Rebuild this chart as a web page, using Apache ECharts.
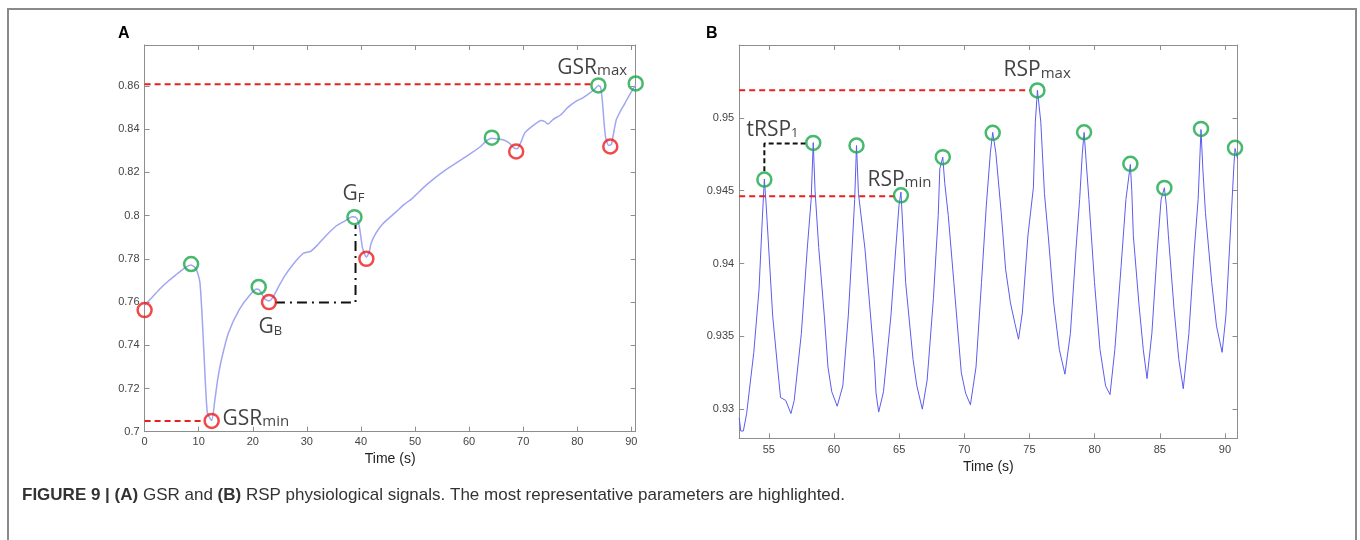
<!DOCTYPE html>
<html>
<head>
<meta charset="utf-8">
<script src="https://cdn.jsdelivr.net/npm/echarts@6/dist/echarts.min.js"></script>
<style>
  html, body { margin: 0; padding: 0; background: #fff; }
  #chart { width: 1360px; height: 540px; }
</style>
</head>
<body>
<div id="chart"></div>
<script>
// ---- panel A : GSR (time s, value) ----
var gsrSignal = [
  [0,0.7585],[1.5,0.7625],[3,0.7665],[4.5,0.7700],[6,0.7730],[7.5,0.7760],[8.6,0.7772],
  [9.5,0.7755],[10.2,0.7696],[10.6,0.755],[11,0.735],[11.6,0.7087],[12.4,0.7052],
  [13.0,0.7148],[13.5,0.724],[14.2,0.7333],[15.5,0.7457],[17.5,0.7565],[19.5,0.7634],
  [20.8,0.7660],[21.4,0.7650],[22.2,0.7615],[23.0,0.7605],[23.8,0.7625],[24.8,0.7673],
  [26,0.7725],[27.4,0.7773],[28.5,0.7805],[29.4,0.7827],[30.7,0.7835],[32,0.7865],
  [33.4,0.7904],[35.3,0.7950],[37,0.7975],[38.4,0.7995],[39.2,0.7990],[39.7,0.7950],
  [40.3,0.7850],[41.0,0.7808],[41.5,0.7830],[41.9,0.7873],[42.8,0.7920],[43.9,0.7958],
  [45,0.7985],[46.6,0.8020],[48,0.8052],[49.5,0.8080],[52,0.8140],[55.2,0.8204],
  [58,0.8250],[60.4,0.8290],[62,0.8318],[63.1,0.8344],[64.2,0.8358],[65.2,0.8355],
  [66.4,0.8350],[67.5,0.8335],[68.2,0.8315],[68.9,0.8310],[69.5,0.8335],[70.3,0.8383],
  [72,0.8420],[73.3,0.8440],[74,0.8435],[74.6,0.8424],[75.5,0.8445],[76.9,0.8466],
  [78.2,0.8500],[79.6,0.8527],[81,0.8545],[82.2,0.8566],[83.2,0.8585],[83.9,0.8603],
  [84.3,0.8595],[84.6,0.8540],[85.2,0.8367],[85.8,0.8325],[86.3,0.8330],[86.7,0.8380],
  [87.2,0.8443],[88,0.8485],[88.8,0.8520],[89.8,0.8565],[90.8,0.8605]
];
var gsrMinima = [[0,0.7563],[12.4,0.705],[23.0,0.760],[41.0,0.780],[68.7,0.8297],[86.1,0.832]];
var gsrMaxima = [[8.6,0.7776],[21.1,0.767],[38.8,0.7993],[64.2,0.8361],[83.9,0.8603],[90.8,0.8612]];
var gsrMaxGuide = [[0,0.8608],[82.6,0.8608]];
var gsrMinGuide = [[0,0.705],[10.9,0.705]];
var gsrRiseGuide = [[24.1,0.7598],[39.0,0.7598],[39.0,0.7957]];
var gsrNotes = [
  {at:[76.4,0.8632], main:'GSR', sub:'max', subSize:15},
  {at:[14.5,0.7008], main:'GSR', sub:'min', subSize:15},
  {at:[21.15,0.7434], main:'G', sub:'B', subSize:13},
  {at:[36.7,0.8050], main:'G', sub:'F', subSize:13}
];

// ---- panel B : RSP ----
var rspSignal = [
  [52.73,0.9294],[52.85,0.9285],[53.05,0.9285],[53.3,0.9297],[53.85,0.9339],[54.25,0.9382],
  [54.5,0.9430],[54.66,0.9458],[54.8,0.9440],[55.3,0.9364],[55.67,0.9329],[55.9,0.9308],
  [56.3,0.9306],[56.7,0.9297],[56.95,0.9306],[57.5,0.9352],[57.95,0.9410],[58.25,0.9444],
  [58.41,0.9483],[58.55,0.9450],[58.83,0.9411],[59.26,0.9364],[59.54,0.9329],[59.83,0.9312],
  [60.25,0.9302],[60.68,0.9316],[61.1,0.9364],[61.39,0.9410],[61.59,0.9444],[61.73,0.9481],
  [61.88,0.9448],[62.38,0.9410],[62.81,0.9364],[63.09,0.9334],[63.23,0.9311],[63.43,0.9298],
  [63.8,0.9312],[64.37,0.9364],[64.74,0.9410],[64.99,0.9440],[65.14,0.9449],[65.5,0.9387],
  [66.07,0.9334],[66.36,0.9316],[66.78,0.9300],[67.15,0.9320],[67.63,0.9376],[68.0,0.9433],
  [68.12,0.9465],[68.35,0.9473],[68.5,0.9455],[68.77,0.9433],[69.2,0.9387],[69.77,0.9325],
  [70.1,0.9311],[70.47,0.9303],[70.9,0.9329],[71.32,0.9387],[71.69,0.9440],[72.0,0.9476],
  [72.18,0.9490],[72.42,0.9476],[72.83,0.9435],[73.17,0.9396],[73.54,0.9373],[73.88,0.9359],
  [74.16,0.9348],[74.45,0.9366],[74.88,0.9419],[75.3,0.9452],[75.45,0.9497],[75.61,0.9519],
  [75.87,0.9497],[76.15,0.9448],[76.44,0.9419],[76.86,0.9373],[77.29,0.9341],[77.72,0.9324],
  [78.14,0.9352],[78.57,0.9410],[78.85,0.9444],[79.05,0.9475],[79.19,0.9490],[79.35,0.9470],
  [79.56,0.9444],[79.99,0.9387],[80.41,0.9341],[80.84,0.9316],[81.18,0.9310],[81.55,0.9341],
  [82.03,0.9398],[82.4,0.9444],[82.74,0.9468],[82.85,0.9450],[82.97,0.9419],[83.39,0.9373],
  [83.73,0.9341],[84.02,0.9321],[84.39,0.9352],[84.81,0.9410],[85.1,0.9444],[85.35,0.9452],
  [85.5,0.9440],[85.66,0.9419],[86.09,0.9369],[86.46,0.9334],[86.8,0.9314],[87.23,0.9352],
  [87.65,0.9410],[87.94,0.9444],[88.16,0.9492],[88.3,0.9465],[88.5,0.9435],[88.98,0.9387],
  [89.35,0.9357],[89.78,0.9339],[90.07,0.9364],[90.4,0.9419],[90.69,0.9468],[90.77,0.9479],
  [90.96,0.9472]
];
var rspPeaks = [
  [54.66,0.94576],[58.41,0.94828],[61.73,0.9481],[65.14,0.94468],[68.35,0.9473],[72.18,0.94897],
  [75.61,0.95188],[79.19,0.94901],[82.74,0.94684],[85.35,0.94519],[88.16,0.94924],[90.77,0.94794]
];
var rspMaxGuide = [[52.73,0.9519],[75.05,0.9519]];
var rspMinGuide = [[52.73,0.94461],[64.66,0.94461]];
var rspPeriodGuide = [[54.66,0.94633],[54.66,0.94823],[57.86,0.94823]];
var rspNotes = [
  {at:[53.33,0.94844], main:'tRSP', sub:'1', subSize:13},
  {at:[62.61,0.9450], main:'RSP', sub:'min', subSize:15},
  {at:[73.05,0.9525], main:'RSP', sub:'max', subSize:15}
];

var axisGray = '#8e8e8e';
var noteFont = '"Open Sans", "Noto Sans", sans-serif';

function tickFormatter(step, digits, top) {
  return function (v) {
    var k = v / step;
    if (Math.abs(k - Math.round(k)) > 1e-6 || v > top) return '';
    return String(+v.toFixed(digits));
  };
}

function boxAxis(grid, pos, range, extra) {
  var ax = {
    gridIndex: grid, type: 'value', position: pos,
    min: range[0], max: range[1],
    axisLine: {show: true, onZero: false, lineStyle: {color: axisGray, width: 1}},
    axisTick: {show: true, inside: true, length: 5, lineStyle: {color: axisGray}},
    splitLine: {show: false},
    axisLabel: {show: false}
  };
  for (var k in extra) ax[k] = extra[k];
  return ax;
}

var labelStyle = {color: '#444', fontSize: 11, fontFamily: '"Liberation Sans", Arial, sans-serif'};
var timeName = {fontSize: 14, color: '#222', fontFamily: '"Liberation Sans", Arial, sans-serif'};

function circles(data, color, xi) {
  return {
    type: 'scatter', xAxisIndex: xi, yAxisIndex: xi, data: data, clip: false, z: 5,
    symbol: 'circle', symbolSize: 14,
    itemStyle: {color: 'rgba(0,0,0,0)', borderColor: color, borderWidth: 2.5}
  };
}
function guide(data, color, dash, xi) {
  return {
    type: 'line', xAxisIndex: xi, yAxisIndex: xi, data: data, showSymbol: false, z: 4,
    lineStyle: {color: color, width: 2, type: dash}
  };
}
function notes(list, xi) {
  return {
    type: 'scatter', xAxisIndex: xi, yAxisIndex: xi, symbolSize: 1, clip: false, z: 6,
    itemStyle: {color: 'rgba(0,0,0,0)'},
    data: list.map(function (n) {
      return {
        value: n.at,
        label: {
          show: true, position: [0, 0], align: 'left', verticalAlign: 'bottom',
          formatter: '{m|' + n.main + '}{s|' + n.sub + '}',
          rich: {
            m: {fontSize: 21, color: '#111', fontFamily: noteFont, verticalAlign: 'bottom'},
            s: {fontSize: n.subSize, color: '#111', fontFamily: noteFont, verticalAlign: 'bottom'}
          }
        }
      };
    })
  };
}

var chart = echarts.init(document.getElementById('chart'));

var option = {
  animation: false,
  backgroundColor: '#fff',
  grid: [
    {left: 144.6, top: 45, width: 491.1, height: 386.7},
    {left: 739.2, top: 45, width: 498.3, height: 393.3}
  ],
  xAxis: [
    boxAxis(0, 'bottom', [0, 90.8], {
      interval: 10,
      axisLabel: {show: true, margin: 5, formatter: tickFormatter(10, 0, 90.5), color: labelStyle.color,
                  fontSize: labelStyle.fontSize, fontFamily: labelStyle.fontFamily},
      name: 'Time (s)', nameLocation: 'middle', nameGap: 18, nameTextStyle: timeName
    }),
    boxAxis(0, 'top', [0, 90.8], {interval: 10}),
    boxAxis(1, 'bottom', [52.73, 90.96], {
      splitNumber: 8,
      axisLabel: {show: true, margin: 6, formatter: tickFormatter(5, 0, 90.5), color: labelStyle.color,
                  fontSize: labelStyle.fontSize, fontFamily: labelStyle.fontFamily},
      name: 'Time (s)', nameLocation: 'middle', nameGap: 17, nameTextStyle: timeName
    }),
    boxAxis(1, 'top', [52.73, 90.96], {splitNumber: 8})
  ],
  yAxis: [
    boxAxis(0, 'left', [0.7, 0.879], {
      interval: 0.02,
      axisLabel: {show: true, margin: 5, formatter: tickFormatter(0.02, 2, 0.87), color: labelStyle.color,
                  fontSize: labelStyle.fontSize, fontFamily: labelStyle.fontFamily}
    }),
    boxAxis(0, 'right', [0.7, 0.879], {interval: 0.02}),
    boxAxis(1, 'left', [0.928, 0.955], {
      splitNumber: 5,
      axisLabel: {show: true, margin: 5, formatter: tickFormatter(0.005, 3, 0.9535), color: labelStyle.color,
                  fontSize: labelStyle.fontSize, fontFamily: labelStyle.fontFamily}
    }),
    boxAxis(1, 'right', [0.928, 0.955], {splitNumber: 5})
  ],
  series: [
    {type: 'line', xAxisIndex: 0, yAxisIndex: 0, data: gsrSignal, showSymbol: false, smooth: 0.2, z: 3,
     lineStyle: {color: '#a0a6f2', width: 1.5}},
    guide(gsrMaxGuide, '#e8211d', [6, 4], 0),
    guide(gsrMinGuide, '#e8211d', [6, 4], 0),
    guide(gsrRiseGuide, '#111', [10, 5, 2, 5], 0),
    circles(gsrMinima, '#ee1c1c', 0),
    circles(gsrMaxima, '#19a84a', 0),
    notes(gsrNotes, 0),

    {type: 'line', xAxisIndex: 2, yAxisIndex: 2, data: rspSignal, showSymbol: false, z: 3,
     lineStyle: {color: '#5c5cf0', width: 1}},
    guide(rspMaxGuide, '#e8211d', [6, 4], 2),
    guide(rspMinGuide, '#e8211d', [6, 4], 2),
    guide(rspPeriodGuide, '#111', [5, 3], 2),
    circles(rspPeaks, '#19a84a', 2),
    notes(rspNotes, 2)
  ],
  graphic: [
    {type: 'polyline', silent: true,
     shape: {points: [[8, 545], [8, 9], [1356, 9], [1356, 545]]},
     style: {stroke: '#8a8a8a', lineWidth: 2, fill: null}},
    {type: 'text', left: 118, top: 26,
     style: {text: 'A', font: 'bold 16px "Liberation Sans", Arial, sans-serif', fill: '#000'}},
    {type: 'text', left: 706, top: 26,
     style: {text: 'B', font: 'bold 16px "Liberation Sans", Arial, sans-serif', fill: '#000'}},
    {type: 'text', left: 22, top: 487,
     style: {
       text: '{b|FIGURE 9 | (A)} GSR and {b|(B)} RSP physiological signals. The most representative parameters are highlighted.',
       font: '17px "Liberation Sans", Arial, sans-serif', fill: '#333',
       rich: {b: {fontWeight: 'bold', fontSize: 17, fontFamily: '"Liberation Sans", Arial, sans-serif', fill: '#333'}}
     }}
  ]
};

chart.setOption(option);
</script>
</body>
</html>
